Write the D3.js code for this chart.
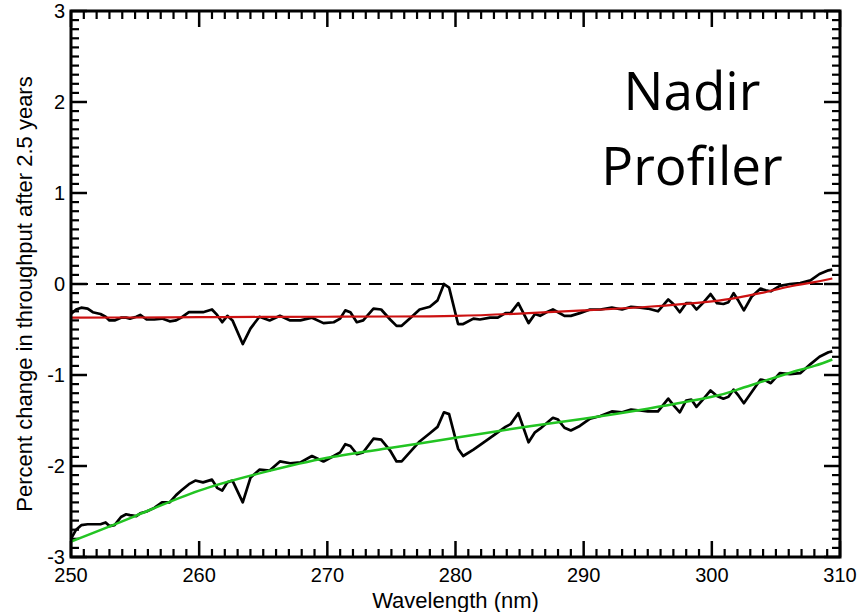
<!DOCTYPE html>
<html>
<head>
<meta charset="utf-8">
<script src="https://cdn.jsdelivr.net/npm/d3@7"></script>
<style>
  body { margin: 0; background: #fff; }
  svg text { font-family: "Liberation Sans", Arial, sans-serif; fill: #000; }
</style>
</head>
<body>
<div id="container"></div>
<script>
// wavelengths (nm) shared by the two measured curves
var wavelength = [250.0, 250.4, 250.8, 251.3, 251.7, 252.3, 252.7, 253.0, 253.4, 253.9,
  254.3, 254.6, 255.1, 255.4, 255.9, 256.5, 257.1, 257.7, 258.2, 258.6,
  259.2, 259.7, 260.3, 261.0, 261.4, 261.8, 262.2, 262.6, 263.4, 264.0,
  264.7, 265.5, 266.3, 267.1, 267.9, 268.8, 269.7, 270.5, 271.0, 271.4,
  271.8, 272.3, 272.8, 273.6, 274.2, 274.9, 275.4, 275.8, 276.5, 277.2,
  278.0, 278.6, 279.1, 279.5, 280.2, 280.6, 281.4, 281.9, 282.7, 283.3,
  283.9, 284.3, 284.9, 285.3, 285.7, 286.2, 286.6, 287.1, 287.6, 288.0,
  288.5, 289.0, 289.7, 290.5, 291.3, 292.2, 293.0, 293.7, 294.4, 295.0,
  295.8, 296.6, 297.0, 297.5, 298.0, 298.4, 298.8, 299.3, 299.9, 300.4,
  300.9, 301.3, 301.7, 302.1, 302.5, 303.1, 303.8, 304.2, 304.6, 305.3,
  306.1, 306.9, 307.7, 308.4, 309.1, 309.4];

// upper measured curve (percent change)
var upper = [-0.33, -0.28, -0.26, -0.27, -0.31, -0.33, -0.36, -0.40, -0.40, -0.37,
  -0.37, -0.38, -0.36, -0.34, -0.39, -0.39, -0.38, -0.41, -0.40, -0.37,
  -0.31, -0.31, -0.31, -0.28, -0.34, -0.42, -0.35, -0.40, -0.66, -0.49,
  -0.36, -0.40, -0.35, -0.40, -0.40, -0.37, -0.43, -0.42, -0.38, -0.29,
  -0.31, -0.42, -0.40, -0.27, -0.28, -0.39, -0.46, -0.46, -0.37, -0.28,
  -0.25, -0.18, 0.00, -0.04, -0.44, -0.44, -0.38, -0.39, -0.37, -0.37,
  -0.32, -0.32, -0.21, -0.32, -0.43, -0.33, -0.35, -0.31, -0.28, -0.31,
  -0.35, -0.35, -0.32, -0.28, -0.28, -0.26, -0.28, -0.25, -0.26, -0.27,
  -0.30, -0.17, -0.22, -0.31, -0.21, -0.21, -0.28, -0.21, -0.11, -0.21,
  -0.22, -0.20, -0.10, -0.19, -0.29, -0.14, -0.05, -0.07, -0.08, -0.02,
  0.00, 0.01, 0.04, 0.11, 0.15, 0.16];

// lower measured curve (percent change)
var lower = [-2.80, -2.70, -2.65, -2.64, -2.64, -2.64, -2.62, -2.66, -2.65, -2.56,
  -2.53, -2.54, -2.55, -2.52, -2.50, -2.46, -2.40, -2.40, -2.32, -2.27,
  -2.20, -2.16, -2.18, -2.15, -2.24, -2.27, -2.18, -2.16, -2.40, -2.13,
  -2.04, -2.05, -1.95, -1.97, -1.96, -1.89, -1.95, -1.89, -1.85, -1.76,
  -1.78, -1.87, -1.85, -1.70, -1.71, -1.83, -1.95, -1.95, -1.84, -1.73,
  -1.64, -1.57, -1.41, -1.43, -1.81, -1.89, -1.82, -1.77, -1.69, -1.63,
  -1.57, -1.54, -1.42, -1.58, -1.74, -1.63, -1.59, -1.53, -1.47, -1.49,
  -1.58, -1.61, -1.56, -1.48, -1.45, -1.40, -1.41, -1.38, -1.39, -1.40,
  -1.40, -1.26, -1.33, -1.41, -1.28, -1.27, -1.35, -1.27, -1.17, -1.23,
  -1.26, -1.24, -1.16, -1.23, -1.31, -1.19, -1.05, -1.06, -1.09, -0.98,
  -0.99, -0.98, -0.88, -0.80, -0.75, -0.74];

// smooth fits
var fitWave = [250, 255, 260, 265, 270, 275, 280, 285, 290, 295, 300, 302, 304, 306, 308, 309.4];
var redFit = [-0.37, -0.368, -0.365, -0.362, -0.36, -0.357, -0.35, -0.325, -0.29, -0.25, -0.19, -0.15, -0.095, -0.03, 0.02, 0.06];
var greenFit = [-2.83, -2.55, -2.27, -2.07, -1.91, -1.80, -1.69, -1.58, -1.48, -1.37, -1.24, -1.16, -1.07, -0.98, -0.90, -0.83];

var xTicks = [250, 260, 270, 280, 290, 300, 310];
var yTicks = [-3, -2, -1, 0, 1, 2, 3];

var W = 860, H = 612,
    mL = 71, mR = 840, mT = 11, mB = 557; // plot box edges in px

var svg = d3.select("#container").append("svg")
    .attr("width", W)
    .attr("height", H);

var x = d3.scaleLinear().domain([250, 310]).range([mL, mR]);
var y = d3.scaleLinear().domain([-3, 3]).range([mB, mT]);

var minorX = d3.range(250, 311, 1).filter(function (d) { return d % 10 != 0; });
var minorY = d3.range(-30, 31, 1).filter(function (d) { return d % 10 != 0; }).map(function (d) { return d / 10; });

// inward ticks on all four sides (IDL style)
var tg = svg.append("g").attr("stroke", "#000");
function xTickMarks(vals, len, w) {
  tg.selectAll(null).data(vals).enter().append("line")
      .attr("x1", x).attr("x2", x)
      .attr("y1", mB).attr("y2", mB - len).attr("stroke-width", w);
  tg.selectAll(null).data(vals).enter().append("line")
      .attr("x1", x).attr("x2", x)
      .attr("y1", mT).attr("y2", mT + len).attr("stroke-width", w);
}
function yTickMarks(vals, len, w) {
  tg.selectAll(null).data(vals).enter().append("line")
      .attr("y1", y).attr("y2", y)
      .attr("x1", mL).attr("x2", mL + len).attr("stroke-width", w);
  tg.selectAll(null).data(vals).enter().append("line")
      .attr("y1", y).attr("y2", y)
      .attr("x1", mR).attr("x2", mR - len).attr("stroke-width", w);
}
xTickMarks(minorX, 8, 2.2);
xTickMarks(xTicks, 16, 2.5);
yTickMarks(minorY, 8, 2.2);
yTickMarks(yTicks, 16, 2.5);

// tick labels
svg.append("g").selectAll("text")
  .data(xTicks)
  .enter().append("text")
    .attr("x", function (d) { return x(d); })
    .attr("y", 582)
    .attr("text-anchor", "middle")
    .style("font-size", "20px")
    .text(function (d) { return d; });

svg.append("g").selectAll("text")
  .data(yTicks)
  .enter().append("text")
    .attr("x", 65)
    .attr("y", function (d) { return y(d) + 7; })
    .attr("text-anchor", "end")
    .style("font-size", "20px")
    .text(function (d) { return d; });

// zero reference
svg.append("line")
    .attr("x1", x(250) + 4).attr("x2", x(310))
    .attr("y1", y(0)).attr("y2", y(0))
    .attr("stroke", "#000")
    .attr("stroke-width", 2)
    .attr("stroke-dasharray", "13,8");

var line = d3.line()
    .x(function (d) { return x(d[0]); })
    .y(function (d) { return y(d[1]); });
var smooth = d3.line()
    .x(function (d) { return x(d[0]); })
    .y(function (d) { return y(d[1]); })
    .curve(d3.curveNatural);

function pairs(xs, ys) { return xs.map(function (v, i) { return [v, ys[i]]; }); }

svg.append("path")
    .attr("d", line(pairs(wavelength, upper)))
    .attr("fill", "none").attr("stroke", "#000").attr("stroke-width", 2.7)
    .attr("stroke-linejoin", "round");
svg.append("path")
    .attr("d", line(pairs(wavelength, lower)))
    .attr("fill", "none").attr("stroke", "#000").attr("stroke-width", 2.7)
    .attr("stroke-linejoin", "round");
svg.append("path")
    .attr("d", smooth(pairs(fitWave, redFit)))
    .attr("fill", "none").attr("stroke", "#cc1111").attr("stroke-width", 2.2);
svg.append("path")
    .attr("d", smooth(pairs(fitWave, greenFit)))
    .attr("fill", "none").attr("stroke", "#22c422").attr("stroke-width", 2.5);

// frame
svg.append("rect")
    .attr("x", mL).attr("y", mT)
    .attr("width", mR - mL).attr("height", mB - mT)
    .attr("fill", "none").attr("stroke", "#000").attr("stroke-width", 3);

// axis titles
svg.append("text")
    .attr("x", (mL + mR) / 2)
    .attr("y", 608)
    .attr("text-anchor", "middle")
    .style("font-size", "22px")
    .text("Wavelength (nm)");

svg.append("text")
    .attr("transform", "translate(32,294) rotate(-90)")
    .attr("text-anchor", "middle")
    .style("font-size", "22px")
    .text("Percent change in throughput after 2.5 years");

// instrument label
var label = svg.append("text")
    .attr("text-anchor", "middle")
    .style("font-family", "'Open Sans', Lato, sans-serif")
    .style("font-size", "53px");
label.append("tspan").attr("x", 692).attr("y", 110).text("Nadir");
label.append("tspan").attr("x", 692).attr("y", 185).text("Profiler");
</script>
</body>
</html>
